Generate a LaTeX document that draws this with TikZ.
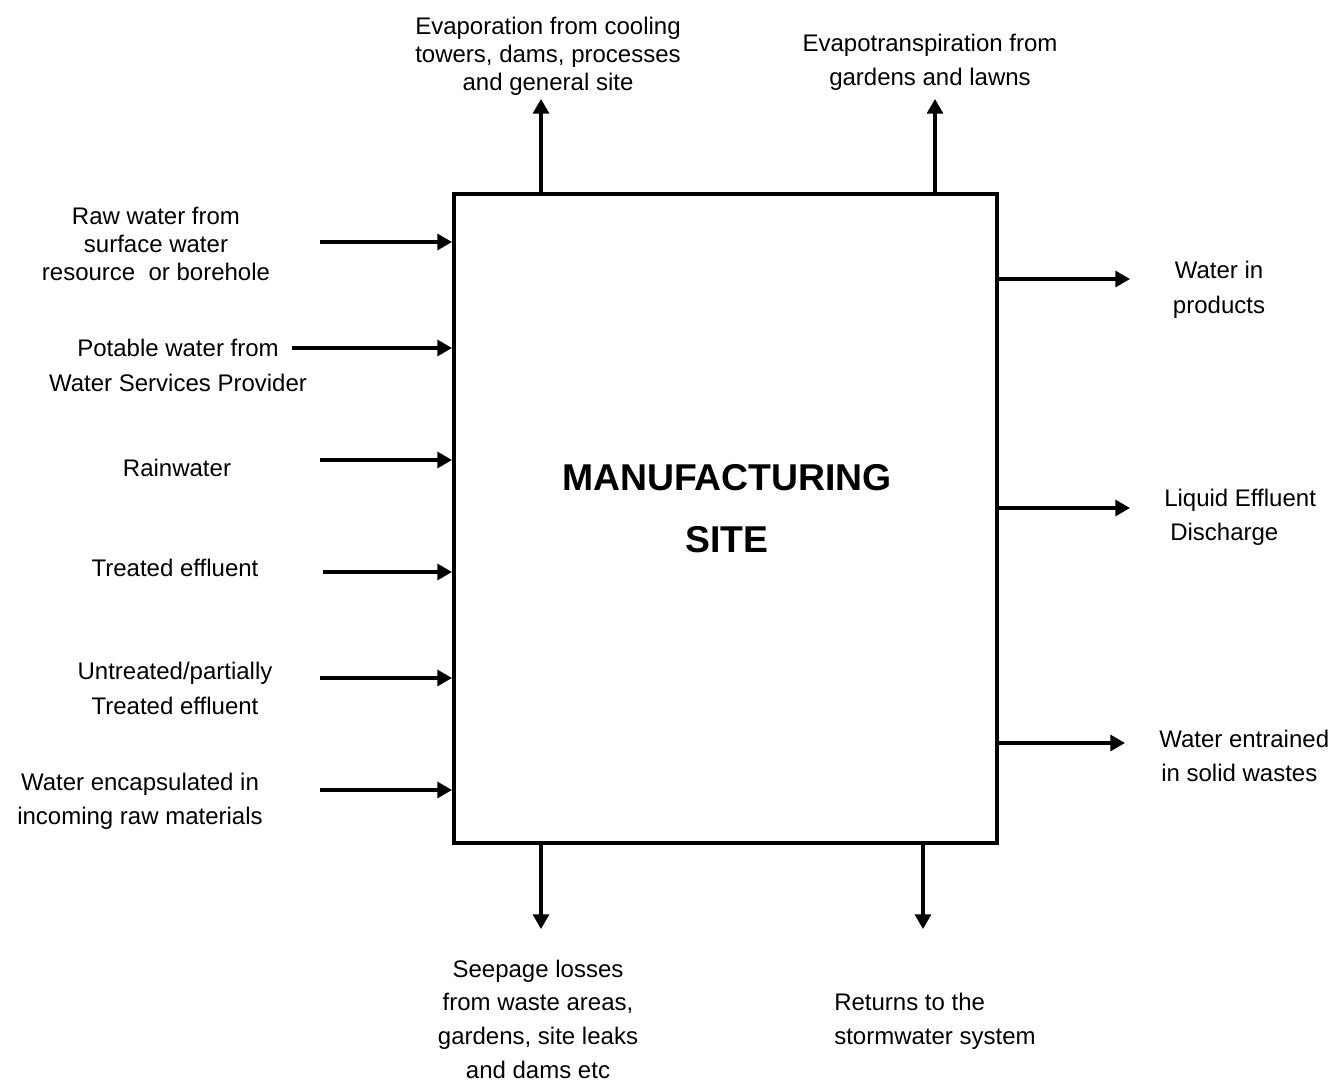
\documentclass[tikz,border=0pt]{standalone}
\usepackage{fontspec}
\setmainfont{Liberation Sans}
\usetikzlibrary{arrows.meta}
\begin{document}
\begin{tikzpicture}[x=0.75pt,y=-0.75pt,
  lbl/.style={inner sep=0pt,align=center,font=\fontsize{18}{21}\selectfont},
  arr/.style={line width=2.4pt,-{Triangle[length=11pt,width=12pt]}},
  sitebox/.style={draw,line width=3pt,inner sep=0pt,minimum width=407.25pt,minimum height=486.75pt}]
\useasboundingbox (0,0) rectangle (1332,1083);
\node[sitebox] (site) at (725.5,518.5) {};
\node[inner sep=0pt,align=center,font=\fontsize{28}{46.5}\selectfont\bfseries] (title) at (727,509) {MANUFACTURING\\SITE};
% inputs
\node[lbl,font=\fontsize{18}{21}\selectfont] (i1) at (156,244) {Raw water from\\surface water\\resource\ \ or borehole};
\node[lbl,font=\fontsize{18}{26.25}\selectfont] (i2) at (178,365) {Potable water from\\Water Services Provider};
\node[lbl] (i3) at (177,468) {Rainwater};
\node[lbl] (i4) at (175,568) {Treated effluent};
\node[lbl,font=\fontsize{18}{26.25}\selectfont] (i5) at (175,688) {Untreated/partially\\Treated effluent};
\node[lbl,font=\fontsize{18}{25.5}\selectfont] (i6) at (140,801) {Water encapsulated in\\incoming raw materials};
\coordinate (a1) at (320,242);
\coordinate (a2) at (292,348);
\coordinate (a3) at (320,460);
\coordinate (a4) at (323,572);
\coordinate (a5) at (320,678);
\coordinate (a6) at (320,790);
\foreach \k in {1,...,6}{\draw[arr] (a\k) -- (site.west |- a\k);}
% top outputs
\node[lbl,font=\fontsize{18}{21}\selectfont] (t1) at (548,56) {Evaporation from cooling\\towers, dams, processes\\and general site};
\node[lbl,font=\fontsize{18}{25.5}\selectfont] (t2) at (930,62) {Evapotranspiration from\\gardens and lawns};
\coordinate (b1) at (541,99);
\coordinate (b2) at (935,99);
\draw[arr] (site.north -| b1) -- (b1);
\draw[arr] (site.north -| b2) -- (b2);
% right outputs
\node[lbl,font=\fontsize{18}{26.25}\selectfont] (r1) at (1219,290) {Water in\\products};
\node[lbl,align=left,anchor=west,font=\fontsize{18}{25.5}\selectfont] (r2) at (1164,517) {Liquid Effluent\\\hspace{4.5pt}Discharge};
\node[lbl,align=left,anchor=west,font=\fontsize{18}{25.5}\selectfont] (r3) at (1159,756) {Water entrained\\\hspace{1.5pt}in solid wastes};
\coordinate (c1) at (1130,279);
\coordinate (c2) at (1130,508);
\coordinate (c3) at (1125,743);
\draw[arr] (site.east |- c1) -- (c1);
\draw[arr] (site.east |- c2) -- (c2);
\draw[arr] (site.east |- c3) -- (c3);
% bottom outputs
\node[lbl,font=\fontsize{18}{25.25}\selectfont] (d1) at (538,1019) {Seepage losses\\from waste areas,\\gardens, site leaks\\and dams etc};
\node[lbl,align=left,anchor=west,font=\fontsize{18}{25.5}\selectfont] (d2) at (834,1021) {Returns to the\\stormwater system};
\coordinate (e1) at (541,929);
\coordinate (e2) at (923,929);
\draw[arr] (site.south -| e1) -- (e1);
\draw[arr] (site.south -| e2) -- (e2);
\end{tikzpicture}
\end{document}
